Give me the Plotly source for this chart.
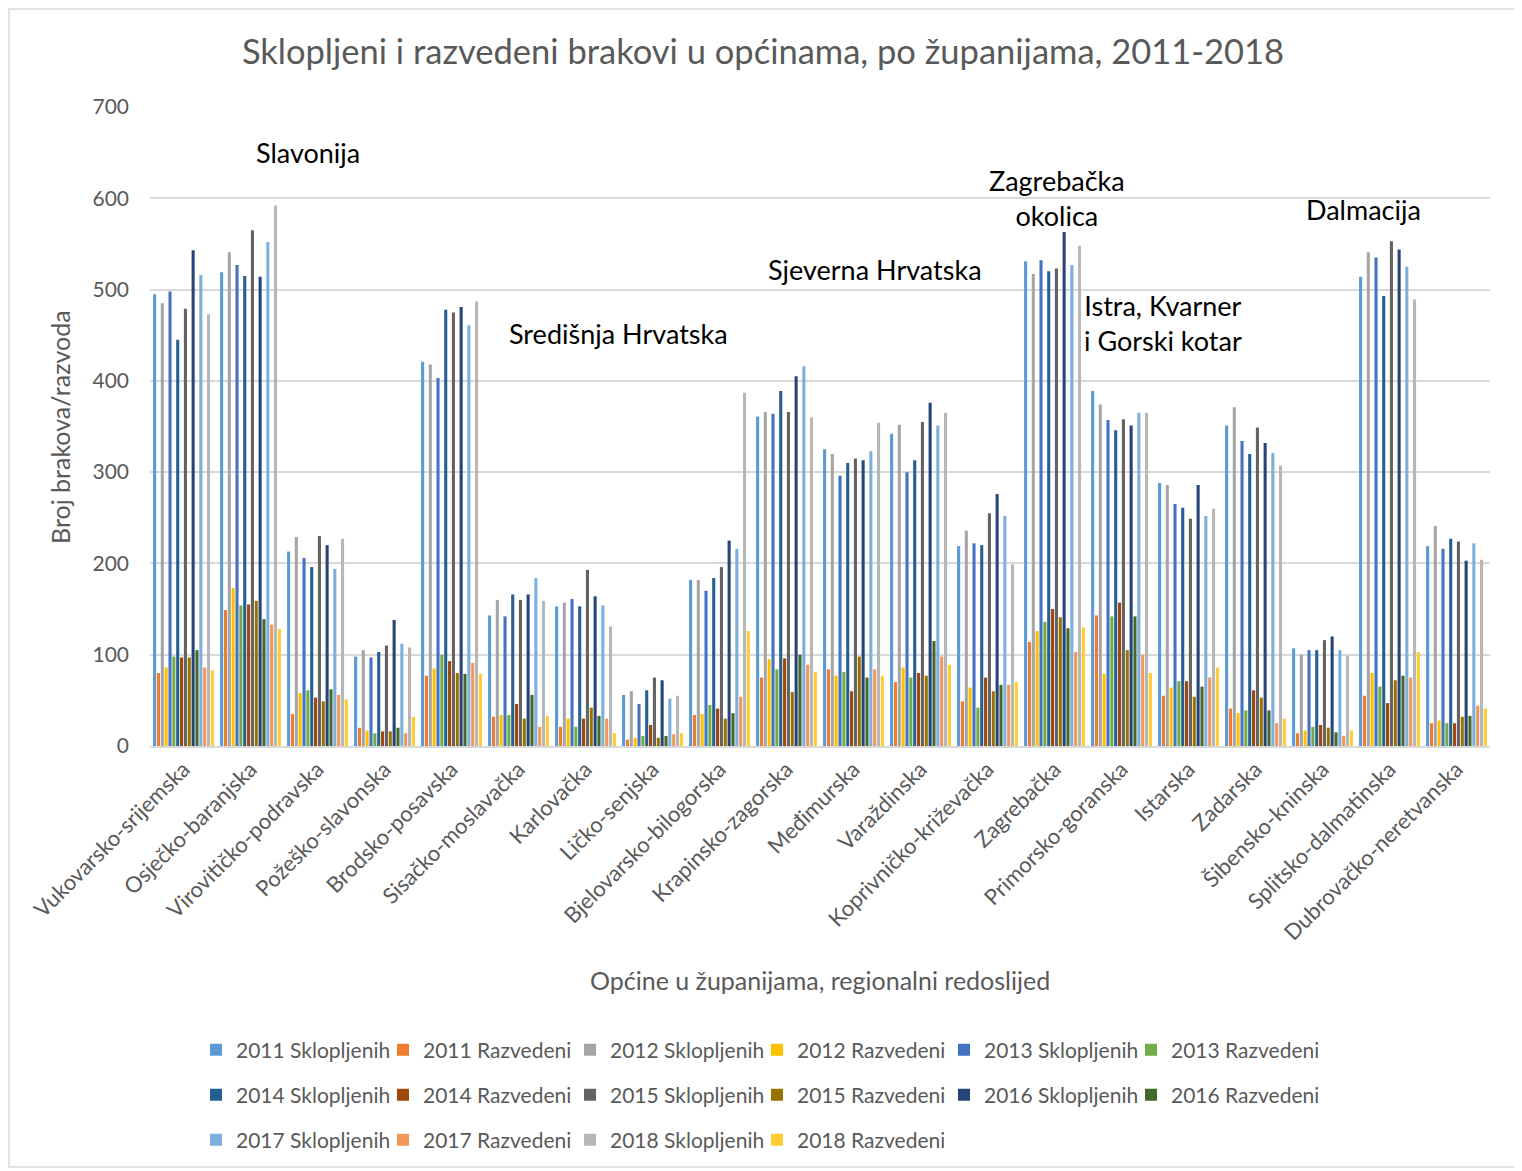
import plotly.graph_objects as go

# Općine u županijama (regionalni redoslijed)
zupanije = [
    "Vukovarsko-srijemska", "Osječko-baranjska", "Virovitičko-podravska",
    "Požeško-slavonska", "Brodsko-posavska", "Sisačko-moslavačka",
    "Karlovačka", "Ličko-senjska", "Bjelovarsko-bilogorska",
    "Krapinsko-zagorska", "Međimurska", "Varaždinska",
    "Koprivničko-križevačka", "Zagrebačka", "Primorsko-goranska",
    "Istarska", "Zadarska", "Šibensko-kninska", "Splitsko-dalmatinska",
    "Dubrovačko-neretvanska",
]

sklopljeni_2011 = [495, 519, 213, 98, 421, 143, 153, 56, 182, 361, 325, 342, 219, 531, 389, 288, 351, 107, 514, 219]
razvedeni_2011 = [80, 149, 35, 20, 77, 32, 21, 7, 34, 75, 84, 70, 49, 114, 143, 55, 41, 14, 55, 25]
sklopljeni_2012 = [485, 541, 229, 105, 418, 160, 157, 60, 182, 366, 320, 352, 236, 517, 374, 286, 371, 100, 541, 241]
razvedeni_2012 = [86, 173, 58, 17, 85, 34, 30, 9, 35, 95, 77, 86, 64, 126, 79, 64, 36, 17, 80, 28]
sklopljeni_2013 = [498, 527, 206, 97, 403, 142, 161, 46, 170, 364, 296, 300, 222, 532, 357, 265, 334, 105, 535, 216]
razvedeni_2013 = [98, 154, 61, 14, 100, 34, 21, 11, 45, 84, 81, 75, 42, 136, 142, 71, 39, 21, 65, 25]
sklopljeni_2014 = [445, 515, 196, 103, 478, 166, 153, 61, 184, 389, 310, 313, 220, 520, 346, 261, 320, 105, 493, 227]
razvedeni_2014 = [97, 155, 53, 16, 93, 46, 30, 23, 41, 96, 60, 80, 75, 150, 157, 71, 61, 23, 47, 25]
sklopljeni_2015 = [479, 565, 230, 110, 475, 160, 193, 75, 196, 366, 315, 355, 255, 523, 358, 249, 349, 116, 553, 224]
razvedeni_2015 = [97, 159, 49, 16, 80, 30, 42, 9, 30, 59, 98, 77, 60, 141, 105, 54, 53, 20, 72, 32]
sklopljeni_2016 = [543, 514, 220, 138, 481, 166, 164, 72, 225, 405, 313, 376, 276, 563, 351, 286, 332, 120, 544, 203]
razvedeni_2016 = [105, 139, 62, 20, 79, 56, 33, 11, 36, 100, 75, 115, 67, 129, 142, 65, 39, 15, 77, 33]
sklopljeni_2017 = [516, 552, 194, 112, 461, 184, 154, 52, 216, 416, 323, 351, 252, 527, 365, 252, 321, 105, 525, 222]
razvedeni_2017 = [86, 133, 56, 14, 91, 21, 30, 13, 54, 89, 84, 98, 67, 103, 100, 75, 25, 11, 75, 44]
sklopljeni_2018 = [473, 592, 227, 108, 487, 159, 131, 55, 387, 360, 354, 365, 199, 548, 365, 260, 307, 99, 489, 204]
razvedeni_2018 = [83, 128, 51, 32, 79, 33, 14, 14, 126, 81, 77, 89, 70, 130, 80, 86, 30, 17, 103, 41]

serije = [
    ("2011 Sklopljenih", sklopljeni_2011, "#5B9BD5"),
    ("2011 Razvedeni", razvedeni_2011, "#ED7D31"),
    ("2012 Sklopljenih", sklopljeni_2012, "#A5A5A5"),
    ("2012 Razvedeni", razvedeni_2012, "#FFC000"),
    ("2013 Sklopljenih", sklopljeni_2013, "#4472C4"),
    ("2013 Razvedeni", razvedeni_2013, "#70AD47"),
    ("2014 Sklopljenih", sklopljeni_2014, "#255E91"),
    ("2014 Razvedeni", razvedeni_2014, "#9E480E"),
    ("2015 Sklopljenih", sklopljeni_2015, "#636363"),
    ("2015 Razvedeni", razvedeni_2015, "#997300"),
    ("2016 Sklopljenih", sklopljeni_2016, "#264478"),
    ("2016 Razvedeni", razvedeni_2016, "#43682B"),
    ("2017 Sklopljenih", sklopljeni_2017, "#7CAFDD"),
    ("2017 Razvedeni", razvedeni_2017, "#F1975A"),
    ("2018 Sklopljenih", sklopljeni_2018, "#B7B7B7"),
    ("2018 Razvedeni", razvedeni_2018, "#FFCD33"),
]

# region labels: (text, x in px, y in data units)
regije = [
    ("Slavonija", 308, 650),
    ("Središnja Hrvatska", 618, 452),
    ("Sjeverna Hrvatska", 875, 522),
    ("Zagrebačka<br>okolica", 1057, 600),
    ("Istra, Kvarner<br>i Gorski kotar", 1163, 463),
    ("Dalmacija", 1363, 588),
]

FONT = "Lato, 'Open Sans', sans-serif"
OFF = 8  # page body margin
W, H = 1522 - OFF, 1171 - OFF
# plot area in reference pixels: x 150..1490, y 107..746
L, T = 150 - OFF, 107 - OFF
R, B = W - (1490 - OFF), H - (746 - OFF)


def px_x(x):
    return (x - 150) / 1340


def px_y(y):
    return (746 - y) / 639


fig = go.Figure()
legende = ["legend", "legend2", "legend3"]
for i, (ime, vrijednosti, boja) in enumerate(serije):
    fig.add_trace(go.Bar(x=zupanije, y=vrijednosti, name=ime, legend=legende[i // 6],
                         marker=dict(color=boja, line=dict(width=0))))

for tekst, x, y in regije:
    fig.add_annotation(text=tekst, x=px_x(x), y=y, xref="paper", yref="y", showarrow=False,
                       xanchor="center", yanchor="middle",
                       font=dict(size=27, color="#000000", family=FONT), align="center")

# axis titles
fig.add_annotation(text="Općine u županijama, regionalni redoslijed", x=px_x(820), y=px_y(980),
                   xref="paper", yref="paper", showarrow=False, xanchor="center", yanchor="middle",
                   font=dict(size=25, color="#595959", family=FONT))
fig.add_annotation(text="Broj brakova/razvoda", x=px_x(60), y=px_y(427), xref="paper", yref="paper",
                   showarrow=False, textangle=-90, xanchor="center", yanchor="middle",
                   font=dict(size=25, color="#595959", family=FONT))

# outer border
fig.add_shape(type="rect", xref="paper", yref="paper", x0=px_x(9), x1=px_x(1517), y0=px_y(1167), y1=px_y(9),
              line=dict(color="#D9D9D9", width=1.5), fillcolor="rgba(0,0,0,0)", layer="below")

legenda_stil = dict(orientation="h", x=px_x(196), xanchor="left", yanchor="middle",
                    itemwidth=30, entrywidth=142, entrywidthmode="pixels", traceorder="normal",
                    font=dict(size=21, color="#595959", family=FONT), bgcolor="rgba(0,0,0,0)")

fig.update_layout(
    width=W, height=H,
    barmode="group", bargap=0.08, bargroupgap=0.2,
    paper_bgcolor="white", plot_bgcolor="white",
    margin=dict(l=L, r=R, t=T, b=B, autoexpand=False),
    font=dict(family=FONT, color="#595959"),
    title=dict(text="Sklopljeni i razvedeni brakovi u općinama, po županijama, 2011-2018",
               x=px_x(763), xref="paper", xanchor="center", y=1 - (52 - OFF) / H, yanchor="middle",
               font=dict(size=34.5, color="#595959", family=FONT)),
    legend=dict(y=px_y(1050), **legenda_stil),
    legend2=dict(y=px_y(1095), **legenda_stil),
    legend3=dict(y=px_y(1140), **legenda_stil),
    showlegend=True,
)

fig.update_yaxes(range=[0, 700], dtick=100, showgrid=True, gridcolor="#D9D9D9", gridwidth=1.5,
                 zeroline=False, showline=False, tickfont=dict(size=21, color="#595959"),
                 ticklabelstandoff=20)
fig.update_xaxes(showline=True, linecolor="#D9D9D9", linewidth=1.5, tickangle=-45,
                 tickfont=dict(size=22, color="#595959"), ticks="")

fig.write_html("out.html")
